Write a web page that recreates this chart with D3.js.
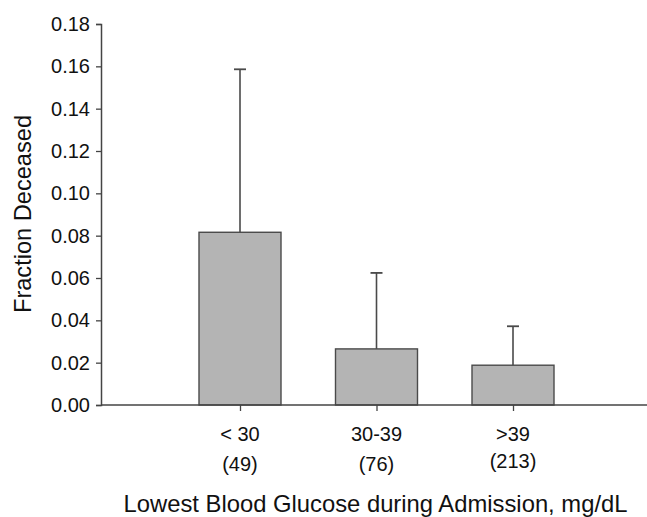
<!DOCTYPE html>
<html>
<head>
<meta charset="utf-8">
<script src="https://cdn.jsdelivr.net/npm/d3@7"></script>
<style>
  html, body { margin: 0; padding: 0; background: #fff; }
  text { font-family: "Liberation Sans", Arial, sans-serif; fill: #111; }
</style>
</head>
<body>
<svg id="chart" width="647" height="517"></svg>
<script>
const categories = ["< 30", "30-39", ">39"];
const counts = ["(49)", "(76)", "(213)"];
const values = [0.0816, 0.0265, 0.0188];
const errors = [0.0770, 0.0359, 0.0184];
const yTicks = [0, 0.02, 0.04, 0.06, 0.08, 0.10, 0.12, 0.14, 0.16, 0.18];

const svg = d3.select("#chart");
const plotLeft = 101, plotRight = 647, plotTop = 24, plotBottom = 405;

const y = d3.scaleLinear().domain([0, 0.18]).range([plotBottom, plotTop]);
const x = d3.scalePoint().domain(categories).range([240, 513]);
const barW = 82, capW = 12;

// bars
svg.selectAll("rect.bar").data(values).enter().append("rect")
  .attr("class", "bar")
  .attr("x", (d, i) => x(categories[i]) - barW / 2)
  .attr("y", d => y(d))
  .attr("width", barW)
  .attr("height", d => plotBottom - y(d))
  .attr("fill", "#b4b4b4")
  .attr("stroke", "#4a4a4a")
  .attr("stroke-width", 1.4);

// error bars
const eb = svg.selectAll("g.err").data(values).enter().append("g").attr("class", "err");
eb.append("line")
  .attr("x1", (d, i) => x(categories[i]))
  .attr("x2", (d, i) => x(categories[i]))
  .attr("y1", d => y(d))
  .attr("y2", (d, i) => y(d + errors[i]))
  .attr("stroke", "#4a4a4a").attr("stroke-width", 1.6);
eb.append("line")
  .attr("x1", (d, i) => x(categories[i]) - capW / 2)
  .attr("x2", (d, i) => x(categories[i]) + capW / 2)
  .attr("y1", (d, i) => y(d + errors[i]))
  .attr("y2", (d, i) => y(d + errors[i]))
  .attr("stroke", "#4a4a4a").attr("stroke-width", 1.8);

// y axis
const yAxis = d3.axisLeft(y).tickValues(yTicks).tickFormat(d3.format(".2f")).tickSize(5).tickPadding(6);
const gy = svg.append("g").attr("transform", `translate(${plotLeft},0)`).call(yAxis);
gy.select(".domain").attr("stroke", "#444").attr("stroke-width", 1.5);
gy.selectAll(".tick line").attr("stroke", "#444").attr("stroke-width", 1.3);
gy.selectAll(".tick text").attr("font-size", 20).attr("fill", "#111")
  .attr("font-family", "Liberation Sans, Arial, sans-serif");

// x axis
const xAxis = d3.axisBottom(x).tickSize(6).tickFormat("");
const gx = svg.append("g").attr("transform", `translate(0,${plotBottom})`).call(xAxis);
gx.select(".domain").attr("d", `M${plotLeft},0H${plotRight}`).attr("stroke", "#444").attr("stroke-width", 1.5);
gx.selectAll(".tick line").attr("stroke", "#444").attr("stroke-width", 1.3);

// x category labels
svg.selectAll("text.cat").data(categories).enter().append("text")
  .attr("class", "cat")
  .attr("x", d => x(d)).attr("y", 441)
  .attr("text-anchor", "middle").attr("font-size", 20)
  .text(d => d);
svg.selectAll("text.cnt").data(counts).enter().append("text")
  .attr("class", "cnt")
  .attr("x", (d, i) => x(categories[i])).attr("y", (d, i) => i === 2 ? 468 : 471)
  .attr("text-anchor", "middle").attr("font-size", 20)
  .text(d => d);

// axis titles
svg.append("text")
  .attr("x", 375.5).attr("y", 512)
  .attr("text-anchor", "middle").attr("font-size", 23.8)
  .text("Lowest Blood Glucose during Admission, mg/dL");
svg.append("text")
  .attr("transform", "translate(31,214) rotate(-90)")
  .attr("text-anchor", "middle").attr("font-size", 23.6)
  .text("Fraction Deceased");
</script>
</body>
</html>
